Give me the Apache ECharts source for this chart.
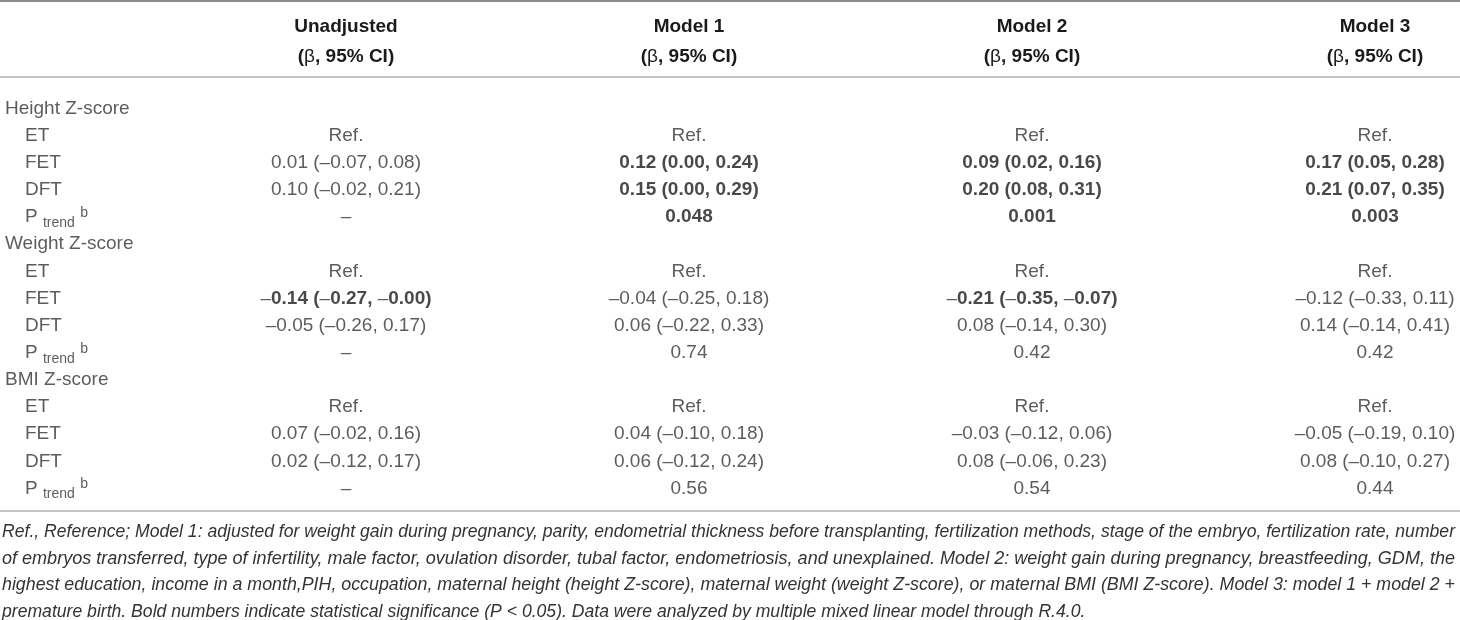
<!DOCTYPE html>
<html>
<head>
<meta charset="utf-8">
<script src="https://cdn.jsdelivr.net/npm/echarts@6/dist/echarts.min.js"></script>
<style>
  html, body { margin: 0; padding: 0; background: #fff; }
  #table { width: 1460px; height: 620px; }
</style>
</head>
<body>
<div id="table"></div>
<script>
// column headers (first column is the row label column)
let headers = ['', 'Unadjusted', 'Model 1', 'Model 2', 'Model 3'];
let subHeader = '(β, 95% CI)';

// row labels, 0 = group heading, 1 = indented sub row
let rowLabels = [
  'Height Z-score', 'ET', 'FET', 'DFT', 'P {sub|trend} {sup|b}',
  'Weight Z-score', 'ET', 'FET', 'DFT', 'P {sub|trend} {sup|b}',
  'BMI Z-score', 'ET', 'FET', 'DFT', 'P {sub|trend} {sup|b}'
];
let rowIndent = [0, 1, 1, 1, 1, 0, 1, 1, 1, 1, 0, 1, 1, 1, 1];

let unadjusted = ['', 'Ref.', '0.01 (–0.07, 0.08)', '0.10 (–0.02, 0.21)', '–',
  '', 'Ref.', '–0.14 (–0.27, –0.00)', '–0.05 (–0.26, 0.17)', '–',
  '', 'Ref.', '0.07 (–0.02, 0.16)', '0.02 (–0.12, 0.17)', '–'];
let model1 = ['', 'Ref.', '0.12 (0.00, 0.24)', '0.15 (0.00, 0.29)', '0.048',
  '', 'Ref.', '–0.04 (–0.25, 0.18)', '0.06 (–0.22, 0.33)', '0.74',
  '', 'Ref.', '0.04 (–0.10, 0.18)', '0.06 (–0.12, 0.24)', '0.56'];
let model2 = ['', 'Ref.', '0.09 (0.02, 0.16)', '0.20 (0.08, 0.31)', '0.001',
  '', 'Ref.', '–0.21 (–0.35, –0.07)', '0.08 (–0.14, 0.30)', '0.42',
  '', 'Ref.', '–0.03 (–0.12, 0.06)', '0.08 (–0.06, 0.23)', '0.54'];
let model3 = ['', 'Ref.', '0.17 (0.05, 0.28)', '0.21 (0.07, 0.35)', '0.003',
  '', 'Ref.', '–0.12 (–0.33, 0.11)', '0.14 (–0.14, 0.41)', '0.42',
  '', 'Ref.', '–0.05 (–0.19, 0.10)', '0.08 (–0.10, 0.27)', '0.44'];

// significant cells (bold), row indexes per column
let boldUnadjusted = [7];
let boldModel1 = [2, 3, 4];
let boldModel2 = [2, 3, 4, 7];
let boldModel3 = [2, 3, 4];

let footnoteLines = [
  'Ref., Reference; Model 1: adjusted for weight gain during pregnancy, parity, endometrial thickness before transplanting, fertilization methods, stage of the embryo, fertilization rate, number',
  'of embryos transferred, type of infertility, male factor, ovulation disorder, tubal factor, endometriosis, and unexplained. Model 2: weight gain during pregnancy, breastfeeding, GDM, the',
  'highest education, income in a month,PIH, occupation, maternal height (height Z-score), maternal weight (weight Z-score), or maternal BMI (BMI Z-score). Model 3: model 1 + model 2 +',
  'premature birth. Bold numbers indicate statistical significance (P < 0.05). Data were analyzed by multiple mixed linear model through R.4.0.'
];

const FONT = '"Liberation Sans", Arial, Helvetica, sans-serif';

let columns = [unadjusted, model1, model2, model3];
let boldCols = [boldUnadjusted, boldModel1, boldModel2, boldModel3];
let rowIdx = rowLabels.map((l, i) => String(i));

let cells = [];
rowLabels.forEach((txt, r) => {
  cells.push({
    value: [0, r],
    text: txt,
    label: {
      align: 'left',
      offset: [rowIndent[r] ? 22 : 2, 0]
    }
  });
});
columns.forEach((col, c) => {
  col.forEach((txt, r) => {
    if (!txt) return;
    let bold = boldCols[c].indexOf(r) > -1;
    cells.push({
      value: [c + 1, r],
      // the minus dashes stay light inside bold numbers
      text: bold ? txt.replace(/–/g, '{m|–}') : txt,
      label: {
        align: 'center',
        fontWeight: bold ? 'bold' : 'normal',
        color: bold ? '#1a1a1a' : '#333'
      }
    });
  });
});

// footnote lines are condensed to the page width like the original paragraph
let ctx = document.createElement('canvas').getContext('2d');
ctx.font = 'italic 18px ' + FONT;
let lineScale = footnoteLines.map(t => 1453 / ctx.measureText(t).width);
lineScale[3] = lineScale[0];

let graphics = [
  { type: 'line', silent: true, shape: { x1: 0, y1: 1, x2: 1460, y2: 1 }, style: { stroke: '#8c8c8c', lineWidth: 2 } },
  { type: 'line', silent: true, shape: { x1: 0, y1: 77, x2: 1460, y2: 77 }, style: { stroke: '#c4c4c4', lineWidth: 2 } },
  { type: 'line', silent: true, shape: { x1: 0, y1: 511, x2: 1460, y2: 511 }, style: { stroke: '#c4c4c4', lineWidth: 2 } }
];
footnoteLines.forEach((t, i) => {
  graphics.push({
    type: 'text',
    silent: true,
    x: 2,
    y: 532 + i * 26.6,
    scaleX: lineScale[i],
    style: {
      text: t,
      fontFamily: FONT,
      fontSize: 18,
      fontStyle: 'italic',
      fill: '#333',
      align: 'left',
      verticalAlign: 'middle'
    }
  });
});

let option = {
  backgroundColor: '#fff',
  animation: false,
  grid: {
    left: 0,
    right: 85,
    top: 95,
    bottom: 118
  },
  xAxis: {
    type: 'category',
    position: 'top',
    data: headers,
    boundaryGap: false,
    axisLine: { show: false },
    axisTick: { show: false },
    splitLine: { show: false },
    axisLabel: {
      interval: 0,
      margin: 23,
      fontFamily: FONT,
      fontSize: 19,
      fontWeight: 'bold',
      lineHeight: 30,
      color: '#1a1a1a',
      formatter: function (v) {
        return v ? v + '\n' + subHeader.replace('β', '{beta|β}') : '';
      },
      rich: {
        beta: { fontFamily: FONT, fontSize: 19, fontWeight: 'normal', color: '#1a1a1a', lineHeight: 30 }
      }
    }
  },
  yAxis: {
    type: 'category',
    inverse: true,
    data: rowIdx,
    axisLine: { show: false },
    axisTick: { show: false },
    axisLabel: { show: false },
    splitLine: { show: false }
  },
  graphic: graphics,
  series: [{
    type: 'scatter',
    symbol: 'circle',
    symbolSize: 1,
    itemStyle: { color: 'rgba(0,0,0,0)' },
    silent: true,
    data: cells,
    label: {
      show: true,
      position: 'inside',
      verticalAlign: 'middle',
      fontFamily: FONT,
      fontSize: 19,
      color: '#333',
      formatter: function (p) {
        return p.data.text;
      },
      rich: {
        sub: { fontFamily: FONT, fontSize: 14, color: '#333', padding: [12, 0, 0, 0] },
        sup: { fontFamily: FONT, fontSize: 14, color: '#333', padding: [0, 0, 8, 0] },
        m: { fontFamily: FONT, fontSize: 19, fontWeight: 'normal', color: '#333' }
      }
    }
  }]
};

const chartObj = echarts.init(document.getElementById('table'));
chartObj.setOption(option, true);
</script>
</body>
</html>
